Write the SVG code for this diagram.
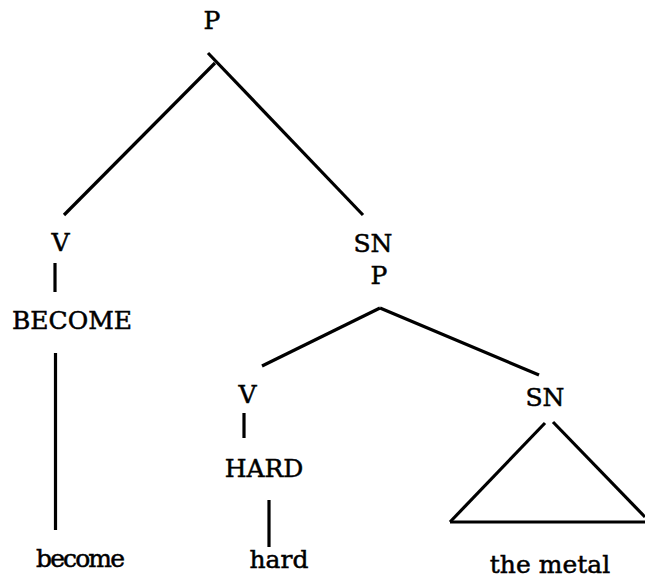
<svg xmlns="http://www.w3.org/2000/svg" width="645" height="584" viewBox="0 0 645 584">
<style>
.lbl{font-family:"DejaVu Serif","Liberation Serif",serif;font-size:25px;fill:#000;stroke:#000;stroke-width:0.5;text-anchor:middle}
.ln{stroke:#000;stroke-width:3.2;fill:none;stroke-linecap:butt}
</style>
<rect width="645" height="584" fill="#fff"/>
<g id="connectors">
<line class="ln" x1="208" y1="53" x2="363" y2="215"/>
<line class="ln" x1="215" y1="63" x2="64" y2="215"/>
<line class="ln" x1="55" y1="263" x2="55" y2="292"/>
<line class="ln" x1="55.5" y1="353" x2="55.5" y2="530"/>
<line class="ln" x1="380" y1="308" x2="262" y2="366"/>
<line class="ln" x1="380" y1="308" x2="539" y2="375"/>
<line class="ln" x1="244" y1="413" x2="244" y2="438"/>
<line class="ln" x1="269" y1="500" x2="269" y2="547"/>
<line class="ln" x1="545" y1="423" x2="450" y2="522"/>
<line class="ln" x1="553" y1="422" x2="645" y2="517"/>
<line class="ln" x1="450" y1="522" x2="645" y2="522" stroke-width="3.8"/>
</g>
<g id="node-P1"><text class="lbl" x="212" y="29">P</text></g>
<g id="node-V1"><text class="lbl" x="60.5" y="251">V</text></g>
<g id="node-SN1"><text class="lbl" x="373" y="252">SN</text></g>
<g id="node-P2"><text class="lbl" x="379" y="284">P</text></g>
<g id="node-BECOME"><text class="lbl" x="72" y="329" textLength="120" lengthAdjust="spacing">BECOME</text></g>
<g id="node-V2"><text class="lbl" x="247.5" y="403">V</text></g>
<g id="node-SN2"><text class="lbl" x="545" y="406">SN</text></g>
<g id="node-HARD"><text class="lbl" x="264" y="477">HARD</text></g>
<g id="node-become"><text class="lbl" x="80.5" y="567" textLength="89" lengthAdjust="spacing">become</text></g>
<g id="node-hard"><text class="lbl" x="279" y="568">hard</text></g>
<g id="node-the-metal"><text class="lbl" x="550" y="573">the metal</text></g>
</svg>
